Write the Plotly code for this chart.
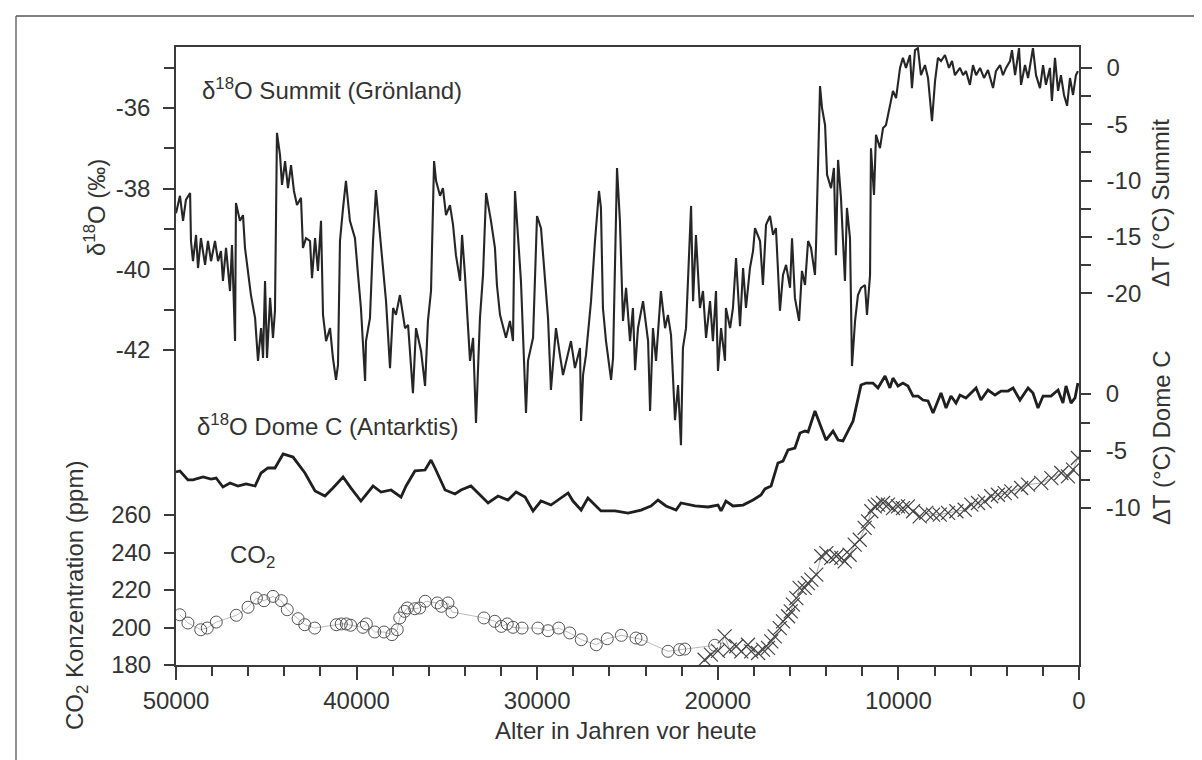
import plotly.graph_objects as go

# ---------------- data ----------------
summit_age = [50000,49780,49610,49450,49220,49170,49060,48890,48780,48620,
48390,48230,48060,47840,47670,47510,47400,47230,47010,46900,
46730,46680,46460,46290,46180,46010,45850,45620,45460,45290,
45180,45070,44960,44790,44630,44520,44410,44240,44130,43960,
43800,43630,43470,43300,43080,42970,42800,42580,42470,42300,
42140,41970,41860,41690,41470,41310,41140,41030,40920,40750,
40590,40370,40090,39920,39760,39530,39480,39260,39090,38930,
38700,38540,38370,38150,37980,37820,37600,37320,37150,36880,
36710,36430,36210,36050,35880,35710,35600,35380,35220,35050,
34830,34660,34500,34270,34160,34000,33830,33720,33550,33390,
33170,33000,32830,32670,32560,32340,32230,32060,31890,31730,
31510,31340,31230,31060,30900,30620,30510,30230,30010,29790,
29570,29400,29240,28960,28740,28570,28350,28130,27910,27630,
27570,27460,27300,27020,26800,26580,26470,26360,26190,25910,
25800,25580,25420,25250,25080,24860,24700,24580,24420,24140,
23860,23750,23590,23420,23150,22920,22760,22590,22370,22200,
22040,21930,21760,21480,21370,21210,20990,20820,20650,20430,
20270,20100,19990,19820,19600,19550,19320,19160,18990,18770,
18600,18440,18220,18050,17940,17660,17500,17330,17110,16940,
16780,16560,16390,16220,16000,15890,15730,15500,15340,15170,
15000,14840,14620,14560,14340,14230,14060,13950,13730,13570,
13460,13340,13180,12960,12850,12680,12570,12400,12240,12070,
11850,11740,11570,11520,11350,11240,11020,10850,10690,10470,
10300,10130,9910,9750,9580,9360,9250,9080,8920,8750,
8530,8360,8140,7970,7810,7640,7420,7200,7030,6870,
6590,6420,6260,6040,5870,5700,5480,5260,5040,4760,
4600,4370,4210,4040,3820,3710,3540,3320,3210,2990,
2820,2550,2380,2160,1990,1830,1610,1500,1330,1160,
1000,830,660,500,330,170,60]

summit_d18o = [-38.61,-38.18,-38.80,-38.28,-38.11,-39.30,-39.80,-39.15,-39.97,-39.23,
-39.89,-39.30,-39.80,-39.30,-39.80,-39.55,-40.29,-39.47,-40.54,-39.40,
-41.78,-38.36,-38.80,-38.66,-39.47,-40.14,-40.64,-41.21,-42.27,-41.46,
-42.20,-40.29,-42.20,-40.71,-41.70,-41.03,-36.62,-37.17,-37.91,-37.32,
-37.99,-37.42,-38.06,-38.41,-38.23,-39.47,-39.23,-39.30,-40.22,-39.23,
-40.04,-38.80,-41.13,-41.78,-41.46,-42.20,-42.74,-42.37,-39.30,-38.48,
-37.81,-38.80,-39.23,-40.14,-40.96,-42.77,-41.78,-41.21,-39.30,-38.04,
-39.23,-39.97,-40.79,-42.45,-40.96,-41.13,-40.64,-41.46,-41.38,-43.07,
-41.46,-42.03,-42.89,-41.28,-40.54,-37.32,-37.81,-38.18,-37.99,-38.66,
-38.41,-38.90,-39.65,-40.29,-39.15,-40.14,-41.38,-42.27,-41.70,-43.81,
-41.21,-40.14,-38.11,-38.48,-38.80,-39.47,-40.39,-41.13,-41.46,-41.70,
-41.28,-41.78,-38.06,-39.30,-40.29,-43.56,-42.27,-41.70,-38.68,-38.98,
-40.29,-41.21,-42.99,-41.46,-42.13,-42.62,-42.20,-41.78,-42.45,-41.95,
-43.76,-42.62,-42.13,-40.79,-39.30,-38.06,-38.48,-40.96,-41.78,-42.74,
-42.20,-37.49,-38.80,-41.28,-40.46,-41.78,-40.96,-42.50,-41.46,-40.79,
-41.78,-43.51,-41.46,-42.27,-40.54,-41.46,-41.13,-41.63,-43.74,-42.87,
-44.36,-41.95,-41.46,-38.43,-40.79,-39.15,-40.96,-40.54,-41.70,-40.79,
-41.78,-40.54,-42.52,-41.46,-42.27,-40.96,-41.46,-40.96,-39.72,-41.41,
-39.97,-40.96,-39.97,-39.55,-38.98,-39.30,-40.39,-38.90,-38.68,-39.15,
-38.98,-41.03,-40.14,-39.89,-40.46,-39.23,-40.71,-41.28,-40.04,-40.39,
-39.30,-39.47,-40.14,-39.40,-35.46,-36.00,-36.43,-37.66,-37.99,-37.49,
-39.65,-37.29,-38.23,-40.29,-38.48,-39.23,-42.40,-41.28,-40.64,-40.46,
-40.39,-41.13,-40.14,-37.00,-38.16,-36.67,-37.00,-36.50,-36.43,-35.93,
-35.58,-35.76,-35.01,-34.76,-35.01,-34.69,-35.51,-34.57,-34.52,-35.19,
-34.94,-35.26,-36.33,-35.33,-34.76,-34.84,-34.69,-35.01,-34.84,-35.19,
-35.01,-35.19,-35.09,-35.43,-34.94,-35.19,-35.01,-35.26,-35.06,-35.51,
-35.09,-34.94,-35.19,-35.01,-34.84,-34.57,-35.19,-34.52,-35.43,-34.94,
-35.26,-34.52,-35.19,-35.51,-34.94,-35.43,-35.01,-35.83,-34.76,-35.58,
-35.19,-35.68,-35.95,-35.26,-35.68,-35.19,-35.09]

domec_age = [50000,49780,49340,49060,48500,48060,47780,47400,47010,46570,
46120,45620,45290,44910,44520,44070,43520,42860,42300,41750,
41310,40750,40310,39760,39090,38650,38090,37540,37260,36770,
36210,35880,35660,35100,34550,34220,33670,33170,32720,32170,
31620,31170,30670,30230,29790,29240,28680,28290,28020,27570,
27190,26800,26470,25690,24970,24250,23700,23310,22870,22310,
22040,21260,20540,19990,19820,19550,19160,18600,18050,17610,
17390,17050,16670,16390,16110,15730,15450,15170,15000,14620,
14290,14010,13620,13340,13070,12790,12510,12070,11790,11410,
11130,10740,10470,10300,10020,9750,9470,9190,8910,8640,
8360,8080,7810,7640,7360,7090,6810,6590,6260,5980,
5700,5430,5040,4650,4320,3930,3650,3270,2820,2550,
2270,1990,1550,1160,890,720,440,220,60]

domec_dT = [-6.84,-6.75,-7.54,-7.54,-7.28,-7.46,-7.37,-8.16,-7.81,-8.07,
-7.89,-8.07,-6.93,-6.49,-6.49,-5.26,-5.53,-6.93,-8.51,-8.95,
-8.25,-7.28,-8.25,-9.39,-8.07,-8.60,-8.42,-9.04,-8.07,-6.75,
-6.67,-5.79,-6.49,-8.42,-8.77,-8.42,-8.07,-8.86,-9.56,-8.95,
-9.30,-8.60,-9.04,-10.26,-9.39,-9.74,-9.12,-8.68,-9.39,-10.18,
-9.12,-9.74,-10.26,-10.26,-10.44,-10.18,-9.82,-9.30,-9.82,-10.18,
-9.56,-9.82,-9.91,-9.74,-10.26,-9.39,-9.82,-9.74,-9.30,-8.86,
-8.33,-8.07,-6.05,-5.88,-4.91,-4.74,-3.42,-3.25,-3.33,-1.49,
-2.81,-4.04,-3.25,-4.04,-4.12,-3.25,-2.37,0.79,0.96,0.96,
0.53,1.58,0.53,1.40,0.70,0.96,0.70,-0.18,-0.18,-0.53,
-0.61,-1.67,-0.53,0.09,-1.23,-0.18,-0.79,-0.09,-0.35,0.09,
0.53,-0.53,0.35,-0.09,0.26,0.26,0.53,-0.53,0.53,0.09,
-1.23,-0.18,-0.18,0.35,-0.79,0.70,-0.79,-0.35,0.96]

co2_circle_age = [49790,49340,48630,48270,47770,46660,46010,45550,45130,44630,
44170,43840,43240,42870,42320,41120,40850,40570,40330,39650,
39460,39000,38480,38040,37750,37610,37340,37190,36780,36510,
36200,35530,35310,34940,34720,32950,32350,31990,31660,31340,
30840,29960,29400,28810,28200,27560,26730,26120,25340,24530,
24240,22760,22110,21830,20170]
co2_circle_ppm = [206.8,202.4,198.8,199.7,202.9,206.5,210.8,215.7,214.3,216.6,
214.3,209.5,204.7,201.5,199.7,201.5,201.9,201.9,201.2,200.1,
201.9,197.6,197.6,196.2,198.8,205.1,208.6,210.4,210.0,210.4,
214.0,213.1,211.3,213.1,208.3,205.1,203.3,200.6,201.9,200.1,
199.7,199.7,198.3,199.7,197.1,193.5,190.8,194.0,195.8,194.4,
193.7,187.3,188.2,188.5,190.5]

co2_cross_age = [20730,20380,19990,19620,19340,18980,18700,18330,18150,17770,
17500,17220,17040,16850,16570,16390,16110,15960,15840,15650,
15470,15190,15010,14820,14550,14270,13990,13720,13440,13160,
12970,12700,12420,12140,11870,11680,11500,11310,11130,10850,
10580,10300,10020,9750,9470,9190,8820,8460,8080,7710,
7250,6790,6330,5960,5590,5220,4860,4490,4110,3750,
3200,2820,2090,1530,980,610,330,60]
co2_cross_ppm = [182.8,185.5,187.5,195.3,188.2,190.0,187.3,190.8,187.3,186.4,
188.2,189.1,192.6,195.3,199.7,203.3,206.0,208.6,212.2,215.7,
221.1,221.1,223.7,225.5,228.2,238.0,239.7,237.1,238.0,237.1,
235.3,238.8,244.2,246.8,253.1,256.6,262.0,264.6,265.5,266.4,
265.5,263.7,264.6,263.7,264.6,262.0,259.3,261.1,260.2,260.2,
261.1,262.0,262.8,265.5,266.4,267.3,270.0,270.8,271.7,272.6,
274.4,276.2,277.1,279.7,282.4,280.6,284.2,290.4]

x_ticks = [50000, 40000, 30000, 20000, 10000, 0]
d18o_ticks = [-36, -38, -40, -42]
d18o_minor = [-35, -37, -39, -41]
co2_ticks = [180, 200, 220, 240, 260]
summit_dT_ticks = [0, -5, -10, -15, -20]
summit_dT_minor = [-2.5, -7.5, -12.5, -17.5]
domec_dT_ticks = [0, -5, -10]
domec_dT_minor = [-2.5, -7.5]

# ---------------- styling ----------------
W, H = 1202, 760
L, R, T, B = 168, 1071, 39, 657          # plot box in pixels
PW, PH = R - L, B - T
AX = '#3a3a3a'
TX = '#333333'
FONT = 'Liberation Sans, Arial, sans-serif'
FS = 24

def px_x(p):
    return (p - L) / PW

def px_y(p):
    return (B - p) / PH

def hy(v):
    return ('-' if v < 0 else '') + ('%g' % abs(v))

fig = go.Figure()
fig.add_trace(go.Scatter(x=summit_age, y=summit_d18o, mode='lines',
                         line=dict(color='#262626', width=2.1), yaxis='y'))
fig.add_trace(go.Scatter(x=domec_age, y=domec_dT, mode='lines',
                         line=dict(color='#1f1f1f', width=2.8), yaxis='y4'))
fig.add_trace(go.Scatter(x=co2_circle_age, y=co2_circle_ppm, mode='lines+markers',
                         line=dict(color='#aaaaaa', width=0.8),
                         marker=dict(symbol='circle-open', size=12, color='#555555',
                                     line=dict(width=1, color='#555555')),
                         yaxis='y2'))
fig.add_trace(go.Scatter(x=co2_cross_age, y=co2_cross_ppm, mode='lines+markers',
                         line=dict(color='#999999', width=0.8),
                         marker=dict(symbol='x-thin-open', size=14, color='#444444',
                                     line=dict(width=1.2, color='#444444')),
                         yaxis='y2'))
# empty trace so that the Summit temperature axis is drawn
fig.add_trace(go.Scatter(x=[None], y=[None], mode='lines', yaxis='y3',
                         hoverinfo='skip'))

common = dict(showgrid=False, zeroline=False, ticks='outside', tickcolor=AX,
              tickwidth=1.5, tickfont=dict(family=FONT, size=FS, color=TX))

# pixel -> value scales for the four y axes
d18o_per_px = 1 / 40.35
d18o_top = -35 + (59.5 - T) * d18o_per_px
co2_per_px = 1 / 1.875
sum_per_px = 1 / 11.26
sum_top = (60 - T) * sum_per_px
dome_per_px = 1 / 11.4
dome_top = (386 - T) * dome_per_px

x_minor = [v for v in range(2000, 50000, 2000) if v % 10000 != 0]

fig.update_layout(
    width=W, height=H,
    margin=dict(l=L, r=W - R, t=T, b=H - B, autoexpand=False),
    paper_bgcolor='white', plot_bgcolor='white',
    showlegend=False,
    font=dict(family=FONT, size=FS, color=TX),
    xaxis=dict(range=[50000, 0], tickvals=x_ticks, ticktext=[str(v) for v in x_ticks],
               ticklen=13, showline=True, linecolor=AX, linewidth=1.5, mirror=True,
               minor=dict(tickvals=x_minor, ticks='outside', ticklen=9, tickwidth=1.5,
                          tickcolor=AX, showgrid=False),
               **common),
    yaxis=dict(range=[d18o_top - PH * d18o_per_px, d18o_top],
               tickvals=d18o_ticks, ticktext=[hy(v) for v in d18o_ticks],
               ticklen=11, showline=True, linecolor=AX, linewidth=1.5,
               ticklabelstandoff=8,
               minor=dict(tickvals=d18o_minor, ticks='outside', ticklen=10, tickwidth=1.5,
                          tickcolor=AX, showgrid=False),
               **common),
    yaxis2=dict(overlaying='y', side='left', range=[180, 180 + PH * co2_per_px],
                tickvals=co2_ticks, ticktext=[str(v) for v in co2_ticks],
                ticklen=11, showline=False, ticklabelstandoff=8, **common),
    yaxis3=dict(overlaying='y', side='right', range=[sum_top - PH * sum_per_px, sum_top],
                tickvals=summit_dT_ticks, ticktext=[hy(v) for v in summit_dT_ticks],
                ticklen=11, showline=True, linecolor=AX, linewidth=1.5,
                ticklabelstandoff=10,
                minor=dict(tickvals=summit_dT_minor, ticks='outside', ticklen=10,
                           tickwidth=1.5, tickcolor=AX, showgrid=False),
                **common),
    yaxis4=dict(overlaying='y', side='right', range=[dome_top - PH * dome_per_px, dome_top],
                tickvals=domec_dT_ticks, ticktext=[hy(v) for v in domec_dT_ticks],
                ticklen=11, showline=False, ticklabelstandoff=10,
                minor=dict(tickvals=domec_dT_minor, ticks='outside', ticklen=10,
                           tickwidth=1.5, tickcolor=AX, showgrid=False),
                **common),
)

def ann(text, xp, yp, xa='center', ya='middle', angle=0):
    fig.add_annotation(text=text, x=px_x(xp), y=px_y(yp), xref='paper', yref='paper',
                       xanchor=xa, yanchor=ya, textangle=angle, showarrow=False,
                       font=dict(family=FONT, size=FS, color=TX))

ann('δ<sup>18</sup>O Summit (Grönland)', 192, 81, xa='left')
ann('δ<sup>18</sup>O Dome C (Antarktis)', 187, 417, xa='left')
ann('CO<sub>2</sub>', 220, 548, xa='left')
ann('δ<sup>18</sup>O (‰)', 87, 200, angle=-90)
ann('CO<sub>2</sub> Konzentration (ppm)', 68, 588, angle=-90)
ann('ΔT (°C) Summit', 1152, 195, angle=-90)
ann('ΔT (°C) Dome C', 1153, 430, angle=-90)
ann('Alter in Jahren vor heute', 617, 722)

# outer frame (top and left edges visible in the picture)
fr = dict(color='#555555', width=1.3)
fig.add_shape(type='line', xref='paper', yref='paper',
              x0=px_x(8), y0=px_y(8), x1=px_x(1215), y1=px_y(8), line=fr)
fig.add_shape(type='line', xref='paper', yref='paper',
              x0=px_x(8), y0=px_y(8), x1=px_x(8), y1=px_y(775), line=fr)

fig.write_html('out.html')
